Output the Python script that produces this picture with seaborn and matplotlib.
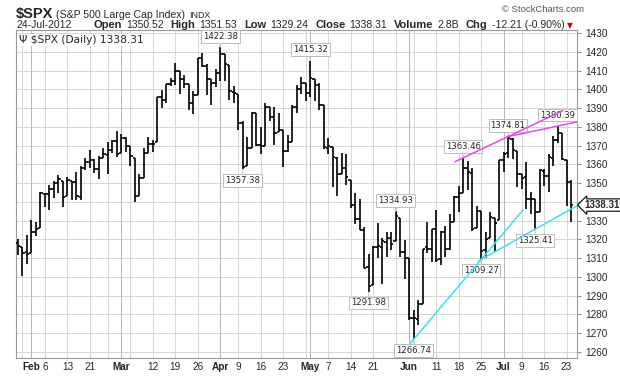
import matplotlib
matplotlib.use("Agg")
import matplotlib.pyplot as plt
import numpy as np
import pandas as pd
import seaborn as sns

# daily OHLC, $SPX, 27-Jan-2012 .. 24-Jul-2012
dates = [
    "2012-01-27", "2012-01-30", "2012-01-31", "2012-02-01", "2012-02-02", "2012-02-03",
    "2012-02-06", "2012-02-07", "2012-02-08", "2012-02-09", "2012-02-10", "2012-02-13",
    "2012-02-14", "2012-02-15", "2012-02-16", "2012-02-17", "2012-02-21", "2012-02-22",
    "2012-02-23", "2012-02-24", "2012-02-27", "2012-02-28", "2012-02-29", "2012-03-01",
    "2012-03-02", "2012-03-05", "2012-03-06", "2012-03-07", "2012-03-08", "2012-03-09",
    "2012-03-12", "2012-03-13", "2012-03-14", "2012-03-15", "2012-03-16", "2012-03-19",
    "2012-03-20", "2012-03-21", "2012-03-22", "2012-03-23", "2012-03-26", "2012-03-27",
    "2012-03-28", "2012-03-29", "2012-03-30", "2012-04-02", "2012-04-03", "2012-04-04",
    "2012-04-05", "2012-04-09", "2012-04-10", "2012-04-11", "2012-04-12", "2012-04-13",
    "2012-04-16", "2012-04-17", "2012-04-18", "2012-04-19", "2012-04-20", "2012-04-23",
    "2012-04-24", "2012-04-25", "2012-04-26", "2012-04-27", "2012-04-30", "2012-05-01",
    "2012-05-02", "2012-05-03", "2012-05-04", "2012-05-07", "2012-05-08", "2012-05-09",
    "2012-05-10", "2012-05-11", "2012-05-14", "2012-05-15", "2012-05-16", "2012-05-17",
    "2012-05-18", "2012-05-21", "2012-05-22", "2012-05-23", "2012-05-24", "2012-05-25",
    "2012-05-29", "2012-05-30", "2012-05-31", "2012-06-01", "2012-06-04", "2012-06-05",
    "2012-06-06", "2012-06-07", "2012-06-08", "2012-06-11", "2012-06-12", "2012-06-13",
    "2012-06-14", "2012-06-15", "2012-06-18", "2012-06-19", "2012-06-20", "2012-06-21",
    "2012-06-22", "2012-06-25", "2012-06-26", "2012-06-27", "2012-06-28", "2012-06-29",
    "2012-07-02", "2012-07-03", "2012-07-05", "2012-07-06", "2012-07-09", "2012-07-10",
    "2012-07-11", "2012-07-12", "2012-07-13", "2012-07-16", "2012-07-17", "2012-07-18",
    "2012-07-19", "2012-07-20", "2012-07-23", "2012-07-24",
]
opens = [
    1318.3, 1316.2, 1313.5, 1312.5, 1324.2, 1326.2, 1344.3, 1344.3, 1347.0, 1350.0, 1351.2, 1343.1,
    1351.3, 1350.5, 1342.6, 1358.1, 1361.2, 1362.1, 1357.5, 1363.5, 1365.2, 1367.6, 1372.2, 1365.9,
    1374.1, 1369.6, 1363.6, 1343.4, 1352.7, 1366.0, 1370.8, 1371.9, 1396.0, 1394.2, 1402.6, 1404.2,
    1409.6, 1405.5, 1402.9, 1392.8, 1397.1, 1416.6, 1412.5, 1405.4, 1403.3, 1408.5, 1419.0, 1413.1,
    1398.8, 1397.5, 1382.2, 1359.0, 1368.8, 1387.6, 1370.3, 1369.6, 1390.8, 1385.1, 1377.0, 1378.5,
    1367.0, 1372.1, 1390.6, 1400.2, 1403.3, 1397.9, 1405.5, 1402.3, 1391.5, 1368.8, 1369.2, 1363.2,
    1354.6, 1358.1, 1351.9, 1338.4, 1330.8, 1324.8, 1305.1, 1295.7, 1316.1, 1316.0, 1318.7, 1320.6,
    1318.9, 1331.3, 1313.1, 1309.9, 1278.3, 1277.8, 1285.6, 1316.2, 1315.0, 1325.7, 1309.4, 1324.0,
    1314.9, 1329.2, 1342.4, 1344.8, 1358.0, 1355.4, 1325.9, 1334.9, 1314.1, 1320.7, 1331.5, 1330.1,
    1362.3, 1365.8, 1373.7, 1367.1, 1354.7, 1353.0, 1341.4, 1341.3, 1334.8, 1356.5, 1353.7, 1363.6,
    1373.0, 1376.5, 1362.3, 1350.52,
]
highs = [
    1320.1, 1316.2, 1322.3, 1330.5, 1329.2, 1345.3, 1344.4, 1349.2, 1351.0, 1354.3, 1351.2, 1353.4,
    1351.3, 1355.9, 1359.0, 1363.4, 1367.8, 1362.7, 1364.2, 1368.9, 1371.9, 1373.1, 1378.0, 1376.2,
    1374.5, 1369.6, 1363.6, 1354.9, 1368.7, 1374.8, 1373.0, 1396.1, 1399.4, 1402.6, 1405.9, 1414.0,
    1409.6, 1407.8, 1402.9, 1399.2, 1416.6, 1419.2, 1413.7, 1405.4, 1410.9, 1422.38, 1419.0, 1413.1,
    1401.6, 1397.5, 1383.0, 1374.7, 1388.1, 1387.6, 1379.7, 1392.8, 1390.8, 1390.5, 1387.4, 1378.5,
    1375.6, 1391.4, 1402.1, 1406.6, 1403.3, 1415.32, 1405.5, 1403.1, 1391.5, 1373.9, 1369.2, 1363.7,
    1365.9, 1365.7, 1351.9, 1344.9, 1341.8, 1326.4, 1312.2, 1316.4, 1328.5, 1320.7, 1324.1, 1324.2,
    1334.93, 1331.3, 1319.7, 1309.9, 1282.6, 1287.6, 1315.1, 1329.1, 1325.8, 1335.5, 1324.3, 1327.3,
    1333.7, 1343.3, 1348.2, 1363.46, 1361.6, 1358.3, 1337.8, 1334.9, 1324.2, 1334.4, 1331.5, 1362.2,
    1366.4, 1374.81, 1373.9, 1367.1, 1354.9, 1361.5, 1345.0, 1341.3, 1357.7, 1357.3, 1365.4, 1375.3,
    1380.39, 1376.5, 1362.3, 1351.53,
]
lows = [
    1311.7, 1300.5, 1306.7, 1312.5, 1321.6, 1326.2, 1337.5, 1335.9, 1342.0, 1344.6, 1337.4, 1343.1,
    1340.8, 1340.8, 1341.2, 1357.2, 1358.1, 1355.5, 1352.3, 1363.5, 1354.9, 1366.0, 1363.8, 1365.9,
    1366.4, 1359.1, 1340.0, 1343.4, 1352.7, 1366.0, 1366.7, 1371.9, 1390.0, 1392.8, 1401.5, 1402.4,
    1397.7, 1400.6, 1388.7, 1386.9, 1397.1, 1412.0, 1397.2, 1391.6, 1401.4, 1404.5, 1404.6, 1394.1,
    1392.9, 1378.2, 1357.38, 1359.0, 1368.8, 1369.9, 1365.4, 1369.6, 1383.3, 1370.3, 1377.0, 1358.8,
    1366.8, 1372.1, 1387.3, 1397.3, 1394.0, 1395.7, 1393.9, 1388.7, 1368.0, 1365.7, 1347.8, 1343.1,
    1354.6, 1348.9, 1336.6, 1328.4, 1324.8, 1304.9, 1291.98, 1295.7, 1310.0, 1296.5, 1310.5, 1314.2,
    1318.9, 1310.8, 1298.9, 1277.3, 1266.74, 1274.2, 1285.6, 1312.7, 1307.8, 1307.7, 1306.6, 1310.5,
    1314.1, 1329.2, 1334.5, 1344.8, 1346.5, 1324.4, 1325.9, 1309.27, 1310.3, 1320.7, 1313.3, 1330.1,
    1355.7, 1363.5, 1363.0, 1348.0, 1346.7, 1336.3, 1333.3, 1325.41, 1334.8, 1348.5, 1345.1, 1359.0,
    1371.2, 1362.2, 1337.6, 1329.24,
]
closes = [
    1316.3, 1313.0, 1312.4, 1324.1, 1325.5, 1344.9, 1344.3, 1347.1, 1350.0, 1352.0, 1342.6, 1351.8,
    1350.5, 1343.2, 1358.0, 1361.2, 1362.2, 1357.7, 1363.5, 1365.7, 1367.6, 1372.2, 1365.7, 1374.1,
    1369.6, 1364.3, 1343.4, 1352.6, 1365.9, 1370.9, 1371.1, 1396.0, 1394.3, 1402.6, 1404.2, 1409.8,
    1405.5, 1402.9, 1392.8, 1397.1, 1416.5, 1412.5, 1405.5, 1403.3, 1408.5, 1419.0, 1413.4, 1399.0,
    1398.1, 1382.2, 1358.6, 1368.7, 1387.6, 1370.3, 1369.6, 1390.8, 1385.1, 1376.9, 1378.5, 1366.9,
    1372.0, 1390.7, 1400.0, 1403.4, 1397.9, 1405.8, 1402.3, 1391.6, 1369.1, 1369.6, 1363.7, 1354.6,
    1358.0, 1353.4, 1338.4, 1330.7, 1324.8, 1304.9, 1295.2, 1316.0, 1316.6, 1318.9, 1320.7, 1317.8,
    1332.4, 1313.3, 1310.3, 1278.0, 1278.2, 1285.5, 1315.1, 1315.0, 1325.7, 1308.9, 1324.2, 1314.9,
    1329.1, 1342.8, 1344.8, 1358.0, 1355.7, 1325.5, 1335.0, 1313.7, 1320.0, 1331.9, 1329.0, 1362.2,
    1365.5, 1374.0, 1367.6, 1354.7, 1352.5, 1341.5, 1341.5, 1334.8, 1356.8, 1353.6, 1363.7, 1372.8,
    1376.5, 1362.7, 1350.5, 1338.31,
]

# axis labels (first trading day of the month / week)
tick_dates = [
    "2012-02-01", "2012-02-06", "2012-02-13", "2012-02-21", "2012-03-01", "2012-03-12",
    "2012-03-19", "2012-03-26", "2012-04-02", "2012-04-09", "2012-04-16", "2012-04-23",
    "2012-05-01", "2012-05-07", "2012-05-14", "2012-05-21", "2012-06-01", "2012-06-11",
    "2012-06-18", "2012-06-25", "2012-07-02", "2012-07-09", "2012-07-16", "2012-07-23",
]
tick_labels = [
    "Feb", "6", "13", "21", "Mar", "12", "19", "26", "Apr", "9", "16", "23",
    "May", "7", "14", "21", "Jun", "11", "18", "25", "Jul", "9", "16", "23",
]
price_ticks = list(range(1260, 1440, 10))

# labelled swing points
swing_dates = ["2012-04-02", "2012-04-10", "2012-05-01", "2012-05-18", "2012-05-29", "2012-06-04",
               "2012-06-19", "2012-06-25", "2012-07-03", "2012-07-12", "2012-07-19"]
swing_kind = ["high", "low", "high", "low", "high", "low", "high", "low", "high", "low", "high"]

# trendlines through two swing points: (date1, price1, date2, price2, bars before, bars after, colour)
trend_a = ("2012-06-19", 1363.46, "2012-07-03", 1374.81, 1.8, 12.2, "#e34be3")
trend_b = ("2012-07-03", 1374.81, "2012-07-19", 1380.39, 0.3, 5.5, "#e34be3")
trend_c = ("2012-06-04", 1266.74, "2012-06-25", 1309.27, 0.8, 9.3, "#3fe0ee")
trend_d = ("2012-06-25", 1309.27, "2012-07-12", 1325.41, 0.6, 10.5, "#3fe0ee")

W, H = 620, 376
sns.set_style("white")
plt.rcParams["font.family"] = ["Liberation Sans", "DejaVu Sans"]

df = pd.DataFrame({"date": pd.to_datetime(dates), "open": opens, "high": highs,
                   "low": lows, "close": closes})
df["pos"] = np.arange(len(df))
pos_of = dict(zip(df["date"].dt.strftime("%Y-%m-%d"), df["pos"]))

fig = plt.figure(figsize=(W / 100, H / 100), dpi=100)
ax = fig.add_axes([16 / W, (H - 358) / H, (577 - 16) / W, (358 - 30) / H])

# grid: every 10 points, first day of each week; month starts a bit darker
for p in price_ticks:
    ax.axhline(p, color="#d6d6d6", lw=0.7, zorder=0)
d = df["date"]
week_start = d.dt.isocalendar().week.diff().fillna(1).ne(0)
month_start = d.dt.month.diff().fillna(1).ne(0)
for i in df["pos"][week_start | month_start]:
    if i == 0:
        continue
    ax.axvline(i, color="#b4b4b4" if month_start[i] else "#d6d6d6", lw=0.7, zorder=0)

# OHLC bars
tick = 0.5
ax.vlines(df["pos"], df["low"], df["high"], color="black", lw=1.2, zorder=3)
ax.hlines(df["open"], df["pos"] - tick, df["pos"], color="black", lw=1.2, zorder=3)
ax.hlines(df["close"], df["pos"], df["pos"] + tick, color="black", lw=1.2, zorder=3)

# trendlines
for d1, p1, d2, p2, pre, post, col in (trend_a, trend_b, trend_c, trend_d):
    i1, i2 = pos_of[d1], pos_of[d2]
    slope = (p2 - p1) / (i2 - i1)
    xs = np.array([i1 - pre, i2 + post])
    ys = p1 + slope * (xs - i1)
    sns.lineplot(x=xs, y=ys, color=col, lw=1.1, ax=ax, zorder=5, estimator=None, sort=False)

# swing labels
for sd, kind in zip(swing_dates, swing_kind):
    row = df.loc[pos_of[sd]]
    val = row["high"] if kind == "high" else row["low"]
    dy = 11 if kind == "high" else -11
    ax.annotate(f"{val:.2f}", xy=(row["pos"], val), xytext=(0, dy), textcoords="offset pixels",
                ha="center", va="center", fontsize=6.1, family="DejaVu Sans", zorder=4,
                bbox=dict(boxstyle="square,pad=0.22", fc="white", ec="#bdbdbd", lw=0.7),
                arrowprops=dict(arrowstyle="-", color="#bdbdbd", lw=0.7, shrinkA=0, shrinkB=0))

ax.set_xlim(-0.445, 124.33)
ax.set_ylim(1256.8, 1431.6)
ax.yaxis.tick_right()
ax.set_yticks(price_ticks)
# the 1340 label sits under the last-price tag
ax.set_yticklabels(["" if p == 1340 else str(p) for p in price_ticks], fontsize=7.2)
ax.tick_params(axis="y", length=3, width=0.7, color="#888888", pad=3)
ax.set_xticks([pos_of[t] for t in tick_dates])
ax.set_xticklabels(tick_labels, fontsize=7.2)
for lab in ax.get_xticklabels():
    if not lab.get_text().isdigit():
        lab.set_fontweight("bold")
ax.tick_params(axis="x", length=0, pad=3)
for s in ax.spines.values():
    s.set_color("#9a9a9a")
    s.set_linewidth(0.8)
ax.set_xlabel("")
ax.set_ylabel("")

# last price tag on the axis
ax.annotate(f"{closes[-1]:.2f}", xy=(1.0, closes[-1]), xycoords=ax.get_yaxis_transform(),
            xytext=(7, 0), textcoords="offset pixels", ha="left", va="center", fontsize=7,
            fontweight="bold", annotation_clip=False, zorder=6,
            bbox=dict(boxstyle="larrow,pad=0.12", fc="white", ec="black", lw=0.8))

# series legend inside the plot
ax.text(0.006, 0.985, "\u03a8 $SPX (Daily) 1338.31", transform=ax.transAxes, ha="left", va="top",
        fontsize=7.7, family="DejaVu Sans", zorder=6,
        bbox=dict(boxstyle="square,pad=0.1", fc="white", ec="none"))

# header
renderer = fig.canvas.get_renderer()


def chain(x, y, parts):
    for s, kw, gap in parts:
        t = fig.text(x / W, 1 - y / H, s, va="baseline", **kw)
        x = t.get_window_extent(renderer).x1 + gap


chain(16, 18, [("$SPX", dict(fontsize=10.5, fontweight="bold"), 3),
               ("(S&P 500 Large Cap Index)", dict(fontsize=7.6), 4),
               ("INDX", dict(fontsize=6.4), 0)])
fig.text(584 / W, 1 - 12 / H, "\u00a9 StockCharts.com", fontsize=6.8, color="#555555",
         ha="right", va="baseline")
bold = dict(fontsize=8, fontweight="bold")
norm = dict(fontsize=7.5)
chain(16, 28, [("24-Jul-2012", norm, 22),
               ("Open", bold, 4), ("1350.52", norm, 7),
               ("High", bold, 4), ("1351.53", norm, 7),
               ("Low", bold, 4), ("1329.24", norm, 7),
               ("Close", bold, 4), ("1338.31", norm, 7),
               ("Volume", bold, 4), ("2.8B", norm, 7),
               ("Chg", bold, 4), ("-12.21 (-0.90%)", norm, 3),
               ("\u25bc", dict(fontsize=5.5, color="#cc0000", family="DejaVu Sans"), 0)])

fig.savefig("out.png", dpi=100)
